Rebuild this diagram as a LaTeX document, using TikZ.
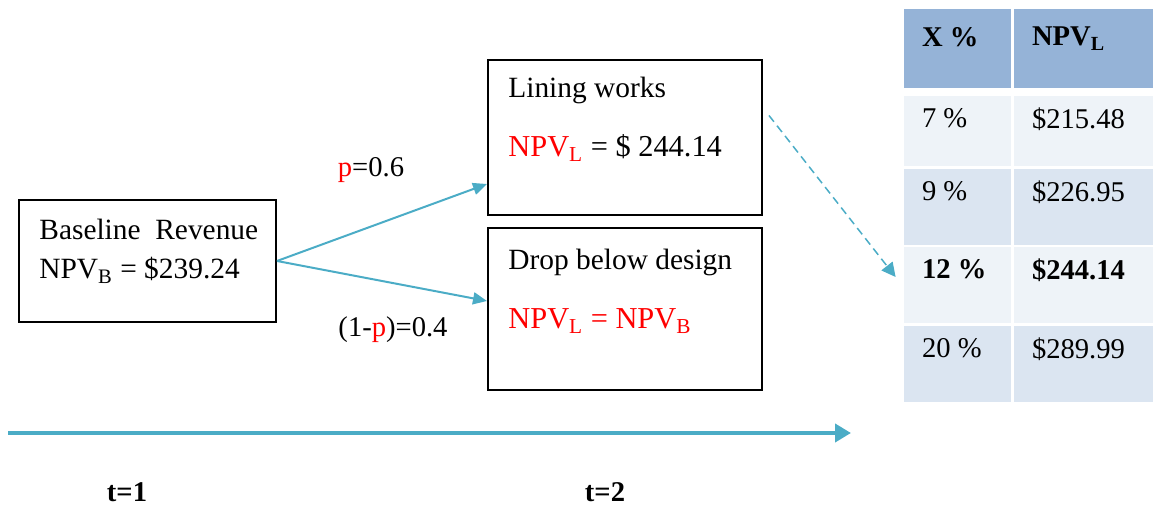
\documentclass[tikz,border=0pt]{standalone}
\usepackage{fontspec}
\setmainfont{Liberation Serif}
\usetikzlibrary{arrows.meta}

\definecolor{arrowblue}{HTML}{4BACC6}
\definecolor{hdrblue}{HTML}{95B3D7}
\definecolor{rowlight}{HTML}{EEF3F8}
\definecolor{rowdark}{HTML}{DBE5F1}

\begin{document}
\begin{tikzpicture}[x=0.5pt, y=-0.5pt,
    every node/.style={font=\fontsize{14.3}{19.5}\selectfont},
    box/.style={draw, line width=1pt, inner sep=0pt},
    boxtext/.style={anchor=north west, inner sep=0pt, align=left, font=\fontsize{14.7}{19.5}\selectfont},
    branch/.style={draw=arrowblue, line width=1pt, -{Triangle[length=7pt, width=6pt]}},
    cell/.style={fill=#1, inner sep=0pt, minimum width=53.5pt},
    celltext/.style={anchor=north west, inner sep=0pt}
  ]

      \useasboundingbox (0,0) rectangle (1153,506);

      % boxes
      \node[box, minimum width=128.5pt, minimum height=61pt] (base) at (147.5,261) {};
      \node[box, minimum width=137pt, minimum height=77.5pt] (lining) at (625,137.5) {};
      \node[box, minimum width=137pt, minimum height=81pt] (drop) at (625,309) {};

      \node[boxtext] (basetxt) at ([xshift=10.5pt, yshift=-10pt]base.north west)
        {Baseline\ \ Revenue\\NPV\textsubscript{B} = \$239.24};
      \node[boxtext] (liningtxt) at ([xshift=10.5pt, yshift=-9pt]lining.north west)
        {Lining works\\[10pt]{\fontsize{15.2}{19.5}\selectfont\textcolor{red}{NPV\textsubscript{L}} = \$ 244.14}};
      \node[boxtext] (droptxt) at ([xshift=10.5pt, yshift=-11pt]drop.north west)
        {Drop below design\\[10pt]{\fontsize{15.2}{19.5}\selectfont\textcolor{red}{NPV\textsubscript{L} = NPV\textsubscript{B}}}};

      % branches
      \draw[branch] (base.east) -- ([yshift=16pt]lining.south west);
      \draw[branch] (base.east) -- ([yshift=-37pt]drop.north west);
      \node (pup) at (371,170) {\textcolor{red}{p}=0.6};
      \node (pdown) at (393,330) {(1-\textcolor{red}{p})=0.4};

      % table
      \node[cell=hdrblue, minimum height=39.5pt] (h1) at (957.5,48.5) {};
      \node[cell=hdrblue, minimum height=39.5pt, minimum width=69.5pt] (h2) at (1083.5,48.5) {};
      \node[cell=rowlight, minimum height=35pt] (r1a) at (957.5,131) {};
      \node[cell=rowlight, minimum height=35pt, minimum width=69.5pt] (r1b) at (1083.5,131) {};
      \node[cell=rowdark, minimum height=38pt] (r2a) at (957.5,207) {};
      \node[cell=rowdark, minimum height=38pt, minimum width=69.5pt] (r2b) at (1083.5,207) {};
      \node[cell=rowlight, minimum height=38pt] (r3a) at (957.5,285) {};
      \node[cell=rowlight, minimum height=38pt, minimum width=69.5pt] (r3b) at (1083.5,285) {};
      \node[cell=rowdark, minimum height=38pt] (r4a) at (957.5,364) {};
      \node[cell=rowdark, minimum height=38pt, minimum width=69.5pt] (r4b) at (1083.5,364) {};

      \node[celltext] (h1t) at ([xshift=9pt, yshift=-9pt]h1.north west) {\textbf{X \%}};
      \node[celltext] (h2t) at ([xshift=9pt, yshift=-9pt]h2.north west) {\textbf{NPV\textsubscript{L}}};
      \node[celltext] (r1at) at ([xshift=9pt, yshift=-6pt]r1a.north west) {7 \%};
      \node[celltext] (r1bt) at ([xshift=9pt, yshift=-6pt]r1b.north west) {\$215.48};
      \node[celltext] (r2at) at ([xshift=9pt, yshift=-6pt]r2a.north west) {9 \%};
      \node[celltext] (r2bt) at ([xshift=9pt, yshift=-6pt]r2b.north west) {\$226.95};
      \node[celltext] (r3at) at ([xshift=9pt, yshift=-6pt]r3a.north west) {\textbf{12 \%}};
      \node[celltext] (r3bt) at ([xshift=9pt, yshift=-6pt]r3b.north west) {\textbf{\$244.14}};
      \node[celltext] (r4at) at ([xshift=9pt, yshift=-6pt]r4a.north west) {20 \%};
      \node[celltext] (r4bt) at ([xshift=9pt, yshift=-6pt]r4b.north west) {\$289.99};

      % link to the table
      \draw[draw=arrowblue, line width=0.75pt, dash pattern=on 4pt off 2.5pt,
            -{Triangle[length=7pt, width=7pt]}]
            ([xshift=3pt, yshift=11pt]lining.east) -- ([xshift=-4pt, yshift=4pt]r3a.west);

      % time line
      \coordinate (tstart) at (8,433);
      \coordinate (tend) at (851,433);
      \draw[draw=arrowblue, line width=2pt, -{Triangle[length=8pt, width=9pt]}] (tstart) -- (tend);
      \node (t1) at (127,492) {\textbf{t=1}};
      \node (t2) at (605,492) {\textbf{t=2}};

\end{tikzpicture}
\end{document}
